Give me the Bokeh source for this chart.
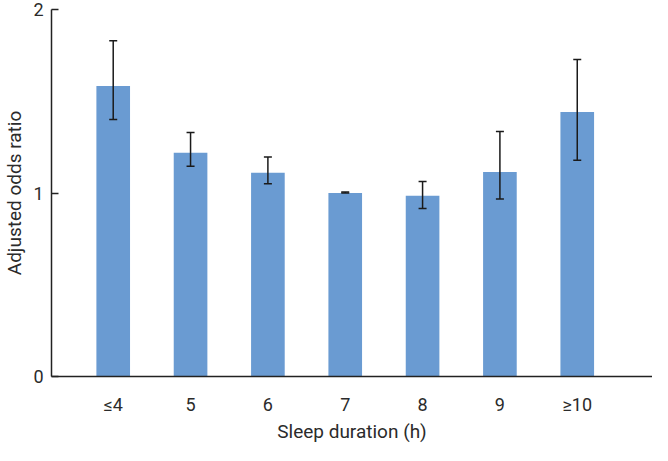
from bokeh.plotting import figure
from bokeh.models import ColumnDataSource, Whisker, TeeHead, FixedTicker, Range1d
from bokeh.embed import file_html
from bokeh.resources import INLINE

categories = ["≤4", "5", "6", "7", "8", "9", "≥10"]
odds_ratio = [1.583, 1.219, 1.110, 1.000, 0.985, 1.115, 1.441]
ci_lower = [1.401, 1.146, 1.051, 1.000, 0.915, 0.967, 1.178]
ci_upper = [1.830, 1.330, 1.196, 1.005, 1.062, 1.335, 1.728]
y_ticks = [0, 1, 2]
x_title = "Sleep duration (h)"
y_title = "Adjusted odds ratio"

positions = list(range(1, len(categories) + 1))
source = ColumnDataSource(dict(x=positions, top=odds_ratio, lower=ci_lower, upper=ci_upper))

FONT = "Roboto"
TEXT = "#2b2b2b"

xr = Range1d(0.202, 7.973)
p = figure(width=652, height=445, output_backend="svg", toolbar_location=None,
           x_range=xr, y_range=Range1d(0, 2),
           min_border_left=45, min_border_right=0, min_border_top=9, min_border_bottom=0)

p.vbar(x="x", top="top", width=0.435, source=source, fill_color="#6a9bd2", line_color=None)

head_u = TeeHead(size=8, line_color="#1a1a1a", line_width=1.5)
head_l = TeeHead(size=8, line_color="#1a1a1a", line_width=1.5)
p.add_layout(Whisker(source=source, base="x", upper="upper", lower="lower", level="overlay",
                     line_color="#1a1a1a", line_width=1.5, upper_head=head_u, lower_head=head_l))

p.outline_line_color = None
p.xgrid.grid_line_color = None
p.ygrid.grid_line_color = None
p.background_fill_color = "white"
p.border_fill_color = "white"

xa = p.xaxis[0]
xa.ticker = FixedTicker(ticks=positions)
xa.major_label_overrides = {pos: lab for pos, lab in zip(positions, categories)}
xa.major_tick_in = 0
xa.major_tick_out = 0
xa.minor_tick_line_color = None
xa.axis_line_color = "#222222"
xa.axis_line_width = 1.5
xa.major_label_standoff = 17
xa.major_label_text_font = FONT
xa.major_label_text_font_size = "18px"
xa.major_label_text_color = TEXT
xa.axis_label = x_title
xa.axis_label_text_font = FONT
xa.axis_label_text_font_size = "19px"
xa.axis_label_text_font_style = "normal"
xa.axis_label_text_color = TEXT
xa.axis_label_standoff = 2

ya = p.yaxis[0]
ya.ticker = FixedTicker(ticks=y_ticks)
ya.major_tick_in = 7
ya.major_tick_out = 0
ya.major_tick_line_color = "#222222"
ya.major_tick_line_width = 1.5
ya.minor_tick_line_color = None
ya.axis_line_color = "#222222"
ya.axis_line_width = 1.5
ya.major_label_standoff = 8
ya.major_label_text_font = FONT
ya.major_label_text_font_size = "18px"
ya.major_label_text_color = TEXT
ya.axis_label = y_title
ya.axis_label_text_font = FONT
ya.axis_label_text_font_size = "19px"
ya.axis_label_text_font_style = "normal"
ya.axis_label_text_color = TEXT
ya.axis_label_standoff = 4

open("out.html", "w").write(file_html(p, INLINE))
